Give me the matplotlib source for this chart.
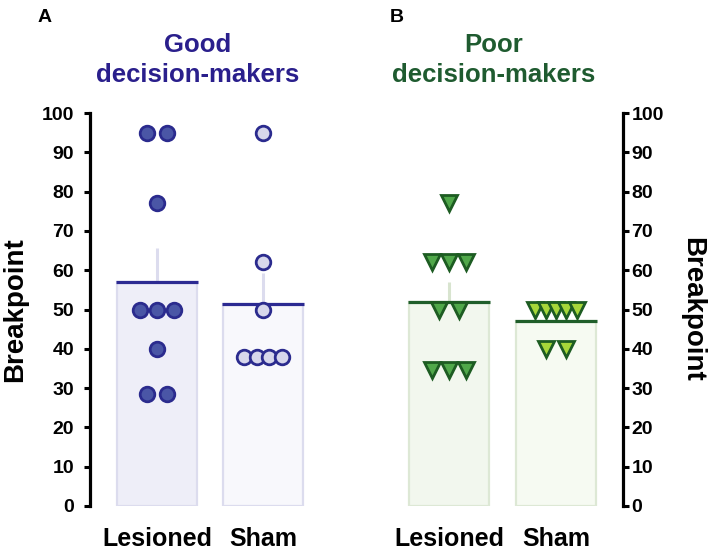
import numpy as np
import matplotlib
matplotlib.use("Agg")
import matplotlib.pyplot as plt

plt.rcParams['font.family'] = ['Liberation Sans', 'DejaVu Sans']
plt.rcParams['font.weight'] = 'bold'

groups = ["Lesioned", "Sham"]
good_lesioned = [95, 95, 77, 50, 50, 50, 40, 28.5, 28.5]
good_sham = [95, 62, 50, 38, 38, 38, 38]
poor_lesioned = [77, 62, 62, 62, 50, 50, 34.5, 34.5, 34.5]
poor_sham = [50, 50, 50, 50, 50, 40, 40]
yticks = [0, 10, 20, 30, 40, 50, 60, 70, 80, 90, 100]

W, H = 709, 553
fig = plt.figure(figsize=(W / 100, H / 100), dpi=100)


def px_rect(x0, y0, x1, y1):
    return [x0 / W, 1 - y1 / H, (x1 - x0) / W, (y1 - y0) / H]


def offsets(vals):
    vals = np.asarray(vals, float)
    off = np.zeros(len(vals))
    for v in np.unique(vals):
        idx = np.where(vals == v)[0]
        n = len(idx)
        sp = min(0.185, 0.48 / n)
        off[idx] = (np.arange(n) - (n - 1) / 2) * sp
    return off


def panel(ax, datasets, fills, edge, mfills, medge, mline, eline, marker, ms):
    bw = 0.755
    for i, vals in enumerate(datasets):
        vals = np.asarray(vals, float)
        m = vals.mean()
        sem = vals.std(ddof=1) / np.sqrt(len(vals))
        ax.bar(i, m, width=bw, color=fills[i], edgecolor=edge, linewidth=1.6, zorder=1)
        ax.plot([i, i], [m, m + sem], color=eline, lw=2.2, zorder=2, solid_capstyle='butt')
        ax.plot([i - bw / 2 - 0.01, i + bw / 2 + 0.01], [m, m], color=mline, lw=2.3, zorder=3,
                solid_capstyle='butt')
        ax.plot(i + offsets(vals), vals, linestyle='none', marker=marker, ms=ms,
                mfc=mfills[i], mec=medge, mew=2.0, zorder=4, clip_on=False)
    ax.set_ylim(0, 100)
    ax.set_yticks(yticks)
    ax.set_xticks([0, 1])
    ax.set_xticklabels(groups, fontsize=18, fontweight='bold')
    ax.tick_params(axis='x', length=0, pad=15)
    ax.spines['top'].set_visible(False)
    ax.spines['bottom'].set_visible(False)
    for lab in ax.get_yticklabels():
        lab.set_fontweight('bold')
    ax.set_facecolor('none')


# Left panel
axL = fig.add_axes(px_rect(90, 113, 320, 506))
axL.set_xlim(-0.632, 1.538)
panel(axL, [good_lesioned, good_sham], ['#eeeef8', '#f8f8fc'], '#dcdcee',
      ['#4a56a6', '#d7d7eb'], '#2b2b8e', '#2c2a92', '#dcdcee', 'o', 10.5)
axL.spines['right'].set_visible(False)
axL.spines['left'].set_linewidth(2.3)
axL.tick_params(axis='y', length=4.5, width=2.2, labelsize=14, pad=7)

# Right panel
axR = fig.add_axes(px_rect(400, 113, 623, 506))
axR.set_xlim(-0.458, 1.626)
panel(axR, [poor_lesioned, poor_sham], ['#f2f7ee', '#f6faf2'], '#dde8d5',
      ['#50a84a', '#a6d63a'], '#1d5c22', '#1f5e2a', '#d8e4cf', 'v', 11.5)
axR.spines['left'].set_visible(False)
axR.spines['right'].set_linewidth(2.3)
axR.yaxis.tick_right()
axR.tick_params(axis='y', left=False, right=True, labelleft=False, labelright=True,
                length=4.5, width=2.2, labelsize=14, pad=1.5)
for lab in axR.get_yticklabels():
    lab.set_fontweight('bold')

# Axis labels
fig.text(15 / W, 1 - 309.5 / H, "Breakpoint", rotation=90, ha='center', va='center',
         fontsize=20, fontweight='bold')
fig.text(692 / W, 1 - 309.5 / H, "Breakpoint", rotation=-90, ha='center', va='center',
         fontsize=20, fontweight='bold')

# Titles
good_c = '#2a1f8c'
poor_c = '#1f5b30'
fig.text(198 / W, 1 - 52 / H, "Good", ha='center', va='baseline', fontsize=18.5,
         fontweight='bold', color=good_c)
fig.text(198 / W, 1 - 82 / H, "decision-makers", ha='center', va='baseline', fontsize=18.5,
         fontweight='bold', color=good_c)
fig.text(494 / W, 1 - 52 / H, "Poor", ha='center', va='baseline', fontsize=18.5,
         fontweight='bold', color=poor_c)
fig.text(494 / W, 1 - 82 / H, "decision-makers", ha='center', va='baseline', fontsize=18.5,
         fontweight='bold', color=poor_c)

# Panel letters
fig.text(38 / W, 1 - 22 / H, "A", ha='left', va='baseline', fontsize=14, fontweight='bold')
fig.text(390 / W, 1 - 22 / H, "B", ha='left', va='baseline', fontsize=14, fontweight='bold')

fig.savefig("out.png", dpi=100, facecolor='white')
